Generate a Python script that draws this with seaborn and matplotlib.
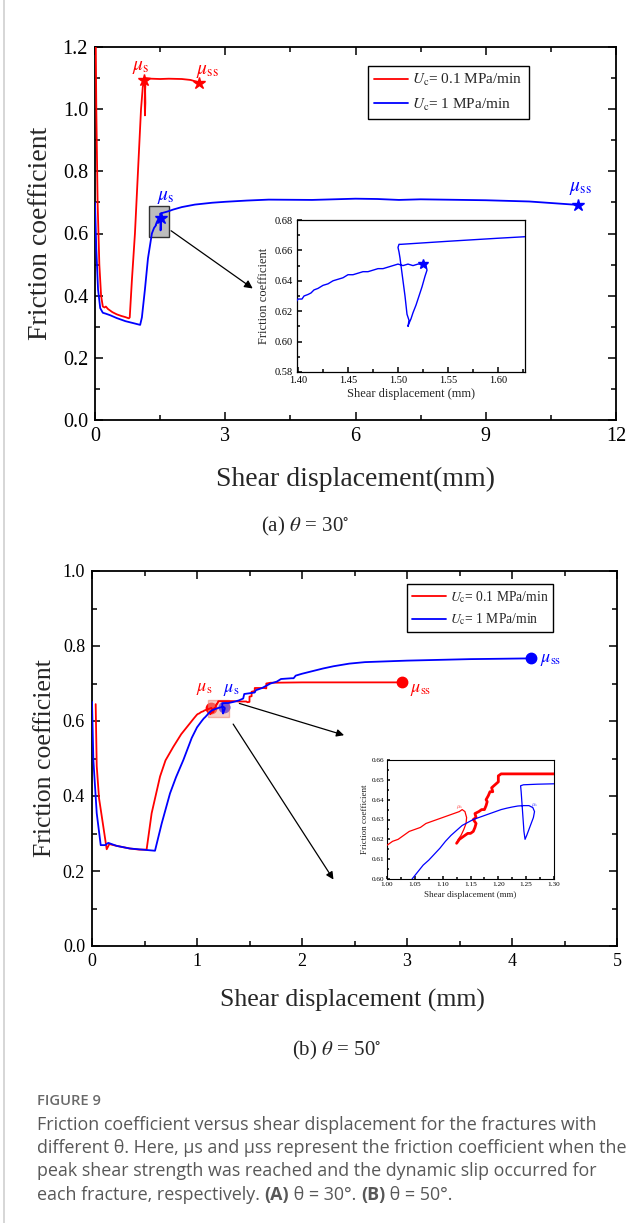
import numpy as np
import pandas as pd
import matplotlib
matplotlib.use("Agg")
import matplotlib.pyplot as plt
import seaborn as sns
from matplotlib.patches import Rectangle
from matplotlib.lines import Line2D
from matplotlib.ticker import MultipleLocator, FormatStrFormatter

# ------------------------------------------------------------------ data
# Panel (a) theta = 30 deg, Uc = 0.1 MPa/min (red)
a_red_x = [0.015, 0.03, 0.06, 0.10, 0.14, 0.18, 0.22, 0.25, 0.30, 0.40, 0.50, 0.60, 0.70, 0.78,
           0.80, 0.85, 0.92, 0.99, 1.06, 1.10, 1.12, 1.14, 1.15, 1.145, 1.15, 1.16, 1.155, 1.165,
           1.17, 1.30, 1.50, 1.70, 2.00, 2.20, 2.35, 2.40]
a_red_y = [1.25, 1.00, 0.70, 0.50, 0.40, 0.365, 0.362, 0.365, 0.357, 0.347, 0.340, 0.335, 0.331, 0.327,
           0.33, 0.45, 0.60, 0.80, 1.00, 1.07, 1.09, 1.095, 1.07, 1.03, 0.98, 1.02, 1.06, 1.09,
           1.10, 1.098, 1.097, 1.098, 1.097, 1.094, 1.088, 1.084]
# Uc = 1 MPa/min (blue): rising part, zoomed loop, plateau
a_blue_pre_x = [0.0, 0.03, 0.07, 0.12, 0.18, 0.25, 0.35, 0.50, 0.70, 0.90, 1.04, 1.08, 1.15, 1.22, 1.31, 1.36]
a_blue_pre_y = [0.70, 0.55, 0.42, 0.36, 0.345, 0.342, 0.337, 0.328, 0.318, 0.311, 0.306, 0.33, 0.42, 0.52, 0.60, 0.618]
a_loop_x = [1.397, 1.400, 1.404, 1.406, 1.410, 1.413, 1.416, 1.420, 1.425, 1.430, 1.435, 1.440, 1.445,
            1.450, 1.455, 1.460, 1.465, 1.470, 1.475, 1.480, 1.485, 1.490, 1.495, 1.500, 1.505, 1.510,
            1.515, 1.520, 1.525, 1.528, 1.529, 1.527, 1.524, 1.521, 1.518, 1.515, 1.513, 1.511, 1.510,
            1.511, 1.509, 1.508, 1.507, 1.506, 1.505, 1.504, 1.503, 1.502, 1.501, 1.500, 1.501, 1.503,
            1.550, 1.600, 1.627]
a_loop_y = [0.625, 0.628, 0.628, 0.630, 0.631, 0.632, 0.634, 0.635, 0.637, 0.638, 0.640, 0.641, 0.642,
            0.644, 0.644, 0.645, 0.646, 0.646, 0.647, 0.648, 0.648, 0.649, 0.650, 0.651, 0.650, 0.651,
            0.650, 0.651, 0.651, 0.650, 0.647, 0.643, 0.636, 0.630, 0.624, 0.619, 0.615, 0.612, 0.610,
            0.614, 0.618, 0.624, 0.630, 0.635, 0.640, 0.645, 0.650, 0.655, 0.659, 0.662, 0.664, 0.664,
            0.666, 0.668, 0.669]
a_blue_post_x = [1.70, 1.80, 2.00, 2.30, 2.70, 3.00, 3.50, 4.00, 5.00, 6.00, 6.50, 7.00, 7.50, 8.00, 9.00, 10.00, 11.12]
a_blue_post_y = [0.672, 0.677, 0.685, 0.693, 0.699, 0.702, 0.706, 0.709, 0.708, 0.712, 0.711, 0.708, 0.710, 0.709, 0.707, 0.703, 0.692]
a_peak_red = (1.14, 1.095)
a_ss_red = (2.40, 1.084)
a_peak_blue = (1.525, 0.651)
a_ss_blue = (11.12, 0.692)

# Panel (b) theta = 50 deg
b_red_pre_x = [0.035, 0.045, 0.067, 0.108, 0.14, 0.165, 0.19, 0.235, 0.36, 0.45, 0.52, 0.568, 0.648,
               0.70, 0.774, 0.85, 0.933, 0.97]
b_red_pre_y = [0.645, 0.48, 0.394, 0.318, 0.258, 0.272, 0.27, 0.267, 0.26, 0.257, 0.257, 0.354, 0.452,
               0.495, 0.531, 0.565, 0.594, 0.607]
b_red_loop_x = [1.000, 1.010, 1.020, 1.030, 1.040, 1.050, 1.060, 1.070, 1.080, 1.090, 1.100, 1.110,
                1.120, 1.130, 1.135, 1.140, 1.143, 1.142, 1.138, 1.133, 1.128, 1.125]
b_red_loop_y = [0.617, 0.619, 0.620, 0.622, 0.624, 0.625, 0.626, 0.628, 0.629, 0.630, 0.631, 0.632,
                0.633, 0.634, 0.635, 0.634, 0.631, 0.628, 0.625, 0.622, 0.620, 0.618]
b_red_step_x = [1.125, 1.130, 1.135, 1.140, 1.145, 1.150, 1.155, 1.158, 1.160, 1.155, 1.160, 1.158,
                1.165, 1.170, 1.175, 1.178, 1.180, 1.178, 1.182, 1.185, 1.190, 1.188, 1.192, 1.196,
                1.200, 1.200, 1.205, 1.210, 1.250, 1.300]
b_red_step_y = [0.618, 0.620, 0.621, 0.622, 0.623, 0.623, 0.624, 0.626, 0.628, 0.630, 0.631, 0.633,
                0.634, 0.635, 0.635, 0.637, 0.639, 0.640, 0.642, 0.644, 0.644, 0.646, 0.647, 0.648,
                0.649, 0.652, 0.653, 0.653, 0.653, 0.653]
b_red_post_x = [1.35, 1.40, 1.47, 1.48, 1.50, 1.50, 1.52, 1.52, 1.55, 1.55, 1.64, 1.66, 1.66, 1.70, 2.00, 2.50, 2.95]
b_red_post_y = [0.653, 0.652, 0.652, 0.650, 0.651, 0.665, 0.666, 0.678, 0.680, 0.688, 0.688, 0.687, 0.700, 0.702, 0.703, 0.703, 0.703]

b_blue_pre_x = [0.0, 0.013, 0.045, 0.083, 0.124, 0.155, 0.235, 0.36, 0.48, 0.60, 0.664, 0.743, 0.80,
                0.87, 0.95, 1.00]
b_blue_pre_y = [0.651, 0.496, 0.354, 0.269, 0.269, 0.275, 0.267, 0.26, 0.257, 0.254, 0.327, 0.407, 0.45,
                0.496, 0.555, 0.583]
b_blue_loop_x = [1.045, 1.055, 1.065, 1.075, 1.085, 1.095, 1.105, 1.115, 1.125, 1.135, 1.145, 1.155,
                 1.165, 1.175, 1.185, 1.195, 1.205, 1.215, 1.225, 1.235, 1.245, 1.255, 1.262, 1.265,
                 1.263, 1.259, 1.255, 1.251, 1.248, 1.246, 1.245, 1.244, 1.243, 1.242, 1.241, 1.240,
                 1.245, 1.270, 1.300]
b_blue_loop_y = [0.600, 0.6035, 0.607, 0.6095, 0.6125, 0.6155, 0.619, 0.622, 0.6245, 0.627, 0.6285, 0.630,
                 0.631, 0.632, 0.633, 0.634, 0.635, 0.6357, 0.6363, 0.6368, 0.637, 0.637, 0.636, 0.634,
                 0.631, 0.628, 0.625, 0.622, 0.620, 0.624, 0.628, 0.632, 0.636, 0.640, 0.644, 0.647,
                 0.6475, 0.6478, 0.648]
b_blue_post_x = [1.35, 1.40, 1.44, 1.45, 1.50, 1.55, 1.56, 1.62, 1.66, 1.70, 1.76, 1.80, 1.90, 1.92,
                 1.94, 2.00, 2.10, 2.20, 2.30, 2.45, 2.60, 2.80, 3.00, 3.30, 3.60, 3.90, 4.18]
b_blue_post_y = [0.651, 0.655, 0.660, 0.672, 0.674, 0.676, 0.682, 0.688, 0.694, 0.700, 0.705, 0.712, 0.714,
                 0.714, 0.721, 0.726, 0.733, 0.740, 0.746, 0.753, 0.757, 0.759, 0.761, 0.763, 0.765, 0.766, 0.767]
b_peak_red = (1.135, 0.635)
b_ss_red = (2.95, 0.703)
b_peak_blue = (1.255, 0.637)
b_ss_blue = (4.18, 0.767)

legend_labels = [r"$U_{\rm c}$= 0.1 MPa/min", r"$U_{\rm c}$= 1 MPa/min"]
RED, BLUE = "#ff0000", "#0000ff"

# ------------------------------------------------------------------ style
sns.set_theme(style="ticks")
plt.rcParams["font.family"] = ["Liberation Serif", "DejaVu Serif"]
plt.rcParams["mathtext.fontset"] = "stix"
plt.rcParams["axes.linewidth"] = 1.3

fig = plt.figure(figsize=(6.39, 12.23), dpi=100)
W, H = 639.0, 1223.0


def px_axes(x0, y0, x1, y1):
    return fig.add_axes([x0 / W, 1 - y1 / H, (x1 - x0) / W, (y1 - y0) / H])


def line(ax, xs, ys, color, lw, z=3):
    df = pd.DataFrame({"x": xs, "y": ys})
    sns.lineplot(data=df, x="x", y="y", sort=False, estimator=None, color=color,
                 linewidth=lw, ax=ax, zorder=z)


def style_axes(ax, size, length=6, mlength=3.5, mirror=True):
    ax.tick_params(which="both", direction="in", top=mirror, right=mirror, width=1.1,
                   labelsize=size, colors="black", pad=5)
    ax.tick_params(which="major", length=length)
    ax.tick_params(which="minor", length=mlength)
    for s in ax.spines.values():
        s.set_color("black")


# ------------------------------------------------------------------ panel (a)
ax1 = px_axes(95, 47, 616, 420)
ax1.add_patch(Rectangle((1.24, 0.59), 0.46, 0.10, facecolor="#bdbdbd", edgecolor="#333333",
                        linewidth=1.0, zorder=2))
line(ax1, a_red_x, a_red_y, RED, 1.3)
line(ax1, a_blue_pre_x + a_loop_x + a_blue_post_x, a_blue_pre_y + a_loop_y + a_blue_post_y, BLUE, 1.3)
for (px, py), c in [(a_peak_red, RED), (a_ss_red, RED), (a_peak_blue, BLUE), (a_ss_blue, BLUE)]:
    ax1.plot([px], [py], marker="*", markersize=9, color=c, zorder=5, linestyle="none")
ax1.set_xlim(0, 12)
ax1.set_ylim(0, 1.2)
ax1.xaxis.set_major_locator(MultipleLocator(3))
ax1.xaxis.set_minor_locator(MultipleLocator(1.5))
ax1.yaxis.set_major_locator(MultipleLocator(0.2))
ax1.yaxis.set_minor_locator(MultipleLocator(0.1))
ax1.yaxis.set_major_formatter(FormatStrFormatter("%.1f"))
style_axes(ax1, 14.5)
ax1.set_xlabel("Shear displacement(mm)", fontsize=20)
ax1.set_ylabel("Friction coefficient", fontsize=20)
ax1.xaxis.set_label_coords(0.5, -0.16)
ax1.xaxis.label.set_va("center")
ax1.yaxis.set_label_coords(-0.105, 0.5)
ax1.yaxis.label.set_va("center")
ax1.text(1.06, 1.135, r"$\mu_{\rm s}$", color=RED, fontsize=14, ha="center", va="center")
ax1.text(2.58, 1.12, r"$\mu_{\rm ss}$", color=RED, fontsize=14, ha="center", va="center")
ax1.text(1.62, 0.715, r"$\mu_{\rm s}$", color=BLUE, fontsize=14, ha="center", va="center")
ax1.text(11.18, 0.745, r"$\mu_{\rm ss}$", color=BLUE, fontsize=14, ha="center", va="center")
ax1.annotate("", xy=(3.685, 0.418), xytext=(1.70, 0.614),
             arrowprops=dict(arrowstyle="-|>", color="black", lw=0.9, mutation_scale=12))
h1 = [Line2D([0], [0], color=RED, lw=1.3), Line2D([0], [0], color=BLUE, lw=1.3)]
leg1 = ax1.legend(h1, legend_labels, loc="upper left", bbox_to_anchor=(368 / W, 1 - 66 / H),
                  bbox_transform=fig.transFigure, fontsize=11, frameon=True, fancybox=False,
                  edgecolor="black", framealpha=1, handlelength=2.2, handletextpad=0.3,
                  labelspacing=0.55, borderpad=0.4, borderaxespad=0)
leg1.get_frame().set_linewidth(1.0)

# inset (a)
in1 = px_axes(297, 220, 525, 372)
line(in1, a_loop_x + a_blue_post_x[:1], a_loop_y + a_blue_post_y[:1], BLUE, 1.0)
in1.plot([a_peak_blue[0]], [a_peak_blue[1]], marker="*", markersize=7, color=BLUE, linestyle="none", zorder=5)
in1.set_xlim(1.399, 1.627)
in1.set_ylim(0.58, 0.68)
in1.xaxis.set_major_locator(MultipleLocator(0.05))
in1.xaxis.set_minor_locator(MultipleLocator(0.025))
in1.yaxis.set_major_locator(MultipleLocator(0.02))
in1.yaxis.set_minor_locator(MultipleLocator(0.01))
in1.xaxis.set_major_formatter(FormatStrFormatter("%.2f"))
in1.yaxis.set_major_formatter(FormatStrFormatter("%.2f"))
style_axes(in1, 7.5, length=3.5, mlength=2, mirror=False)
in1.tick_params(pad=3)
in1.set_xlabel("Shear displacement (mm)", fontsize=9, labelpad=2)
in1.set_ylabel("Friction coefficient", fontsize=9, labelpad=3)
for s in in1.spines.values():
    s.set_linewidth(0.9)

# ------------------------------------------------------------------ panel (b)
ax2 = px_axes(92, 571, 617, 946)
line(ax2, b_red_pre_x + b_red_loop_x + b_red_step_x + b_red_post_x,
     b_red_pre_y + b_red_loop_y + b_red_step_y + b_red_post_y, RED, 1.3, z=4)
line(ax2, b_blue_pre_x + b_blue_loop_x + b_blue_post_x,
     b_blue_pre_y + b_blue_loop_y + b_blue_post_y, BLUE, 1.3, z=4)
for (px, py), c, z in [(b_peak_red, RED, 2), (b_ss_red, RED, 5), (b_peak_blue, BLUE, 2), (b_ss_blue, BLUE, 5)]:
    ax2.plot([px], [py], marker="o", markersize=7.5, color=c, zorder=z, linestyle="none")
ax2.add_patch(Rectangle((1.10, 0.611), 0.20, 0.045, facecolor="#f2a497", edgecolor="#ee7b6b",
                        alpha=0.55, linewidth=1.0, zorder=3))
ax2.set_xlim(0, 5)
ax2.set_ylim(0, 1.0)
ax2.xaxis.set_major_locator(MultipleLocator(1))
ax2.xaxis.set_minor_locator(MultipleLocator(0.5))
ax2.yaxis.set_major_locator(MultipleLocator(0.2))
ax2.yaxis.set_minor_locator(MultipleLocator(0.1))
ax2.yaxis.set_major_formatter(FormatStrFormatter("%.1f"))
style_axes(ax2, 13)
ax2.set_xlabel("Shear displacement (mm)", fontsize=18.5)
ax2.set_ylabel("Friction coefficient", fontsize=18.5)
ax2.xaxis.set_label_coords((352 - 92) / 525, -(1000 - 946) / 375)
ax2.xaxis.label.set_va("center")
ax2.yaxis.set_label_coords((45 - 92) / 525, 0.5)
ax2.yaxis.label.set_va("center")
ax2.text(1.07, 0.687, r"$\mu_{\rm s}$", color=RED, fontsize=13, ha="center", va="center")
ax2.text(1.33, 0.683, r"$\mu_{\rm s}$", color=BLUE, fontsize=13, ha="center", va="center")
ax2.text(3.13, 0.683, r"$\mu_{\rm ss}$", color=RED, fontsize=13, ha="center", va="center")
ax2.text(4.37, 0.765, r"$\mu_{\rm ss}$", color=BLUE, fontsize=13, ha="center", va="center")
ax2.annotate("", xy=(2.426, 0.56), xytext=(1.378, 0.649),
             arrowprops=dict(arrowstyle="-|>", color="black", lw=0.9, mutation_scale=11))
ax2.annotate("", xy=(2.314, 0.171), xytext=(1.33, 0.598),
             arrowprops=dict(arrowstyle="-|>", color="black", lw=0.9, mutation_scale=11))
h2 = [Line2D([0], [0], color=RED, lw=1.3), Line2D([0], [0], color=BLUE, lw=1.3)]
leg2 = ax2.legend(h2, legend_labels, loc="upper left", bbox_to_anchor=(407 / W, 1 - 584 / H),
                  bbox_transform=fig.transFigure, fontsize=9.8, frameon=True, fancybox=False,
                  edgecolor="black", framealpha=1, handlelength=2.5, handletextpad=0.3,
                  labelspacing=0.5, borderpad=0.35, borderaxespad=0)
leg2.get_frame().set_linewidth(1.0)

# inset (b)
in2 = px_axes(387, 760, 554, 879)
line(in2, b_red_loop_x, b_red_loop_y, RED, 0.9)
line(in2, b_red_step_x, b_red_step_y, RED, 2.0)
line(in2, b_blue_loop_x, b_blue_loop_y, BLUE, 0.9)
in2.text(1.13, 0.6365, r"$\mu_{\rm s}$", color="#ff6666", fontsize=5, ha="center", va="center")
in2.text(1.266, 0.6375, r"$\mu_{\rm s}$", color="#6666ff", fontsize=5, ha="center", va="center")
in2.set_xlim(1.0, 1.3)
in2.set_ylim(0.60, 0.66)
in2.xaxis.set_major_locator(MultipleLocator(0.05))
in2.xaxis.set_minor_locator(MultipleLocator(0.025))
in2.yaxis.set_major_locator(MultipleLocator(0.01))
in2.yaxis.set_minor_locator(MultipleLocator(0.005))
in2.xaxis.set_major_formatter(FormatStrFormatter("%.2f"))
in2.yaxis.set_major_formatter(FormatStrFormatter("%.2f"))
style_axes(in2, 5.2, length=2.5, mlength=1.5, mirror=False)
in2.tick_params(pad=2)
in2.set_xlabel("Shear displacement (mm)", fontsize=6.5, labelpad=3)
in2.set_ylabel("Friction coefficient", fontsize=6.5, labelpad=2)
for s in in2.spines.values():
    s.set_linewidth(0.8)

# ------------------------------------------------------------------ panel titles & caption
fig.text(305 / W, 1 - 526 / H, r"(a) $\theta$ = 30$^{\circ}$", fontsize=15, ha="center", va="center")
fig.text(337 / W, 1 - 1050 / H, r"(b) $\theta$ = 50$^{\circ}$", fontsize=15, ha="center", va="center")

fig.add_artist(Line2D([3.5 / W, 3.5 / W], [0, 1], color="#cfcfcf", lw=1.2))

cap_font = ["Open Sans", "DejaVu Sans"]
cap_col = "#585858"
cap_size = 12.9
fig.text(37 / W, 1 - 1101 / H, "FIGURE 9", fontsize=10.6, family=cap_font, color="#6a6a6a",
         fontweight="semibold", ha="left", va="center")
cap_lines = ["Friction coefficient versus shear displacement for the fractures with",
             "different \u03b8. Here, \u03bcs and \u03bcss represent the friction coefficient when the",
             "peak shear strength was reached and the dynamic slip occurred for"]
cap_y = [1125, 1148, 1171, 1195]
for t, yy in zip(cap_lines, cap_y):
    fig.text(37 / W, 1 - yy / H, t, fontsize=cap_size, family=cap_font, color=cap_col, ha="left", va="center")

pieces = [("each fracture, respectively. ", "normal"), ("(A)", "bold"), (" \u03b8 = 30\u00b0. ", "normal"),
          ("(B)", "bold"), (" \u03b8 = 50\u00b0.", "normal")]
fig.canvas.draw()
r = fig.canvas.get_renderer()
xpos = 37.0
for t, wgt in pieces:
    tx = fig.text(xpos / W, 1 - cap_y[3] / H, t, fontsize=cap_size, family=cap_font, color=cap_col,
                  fontweight=wgt, ha="left", va="center")
    xpos += tx.get_window_extent(renderer=r).width

fig.savefig("out.png", dpi=100)
